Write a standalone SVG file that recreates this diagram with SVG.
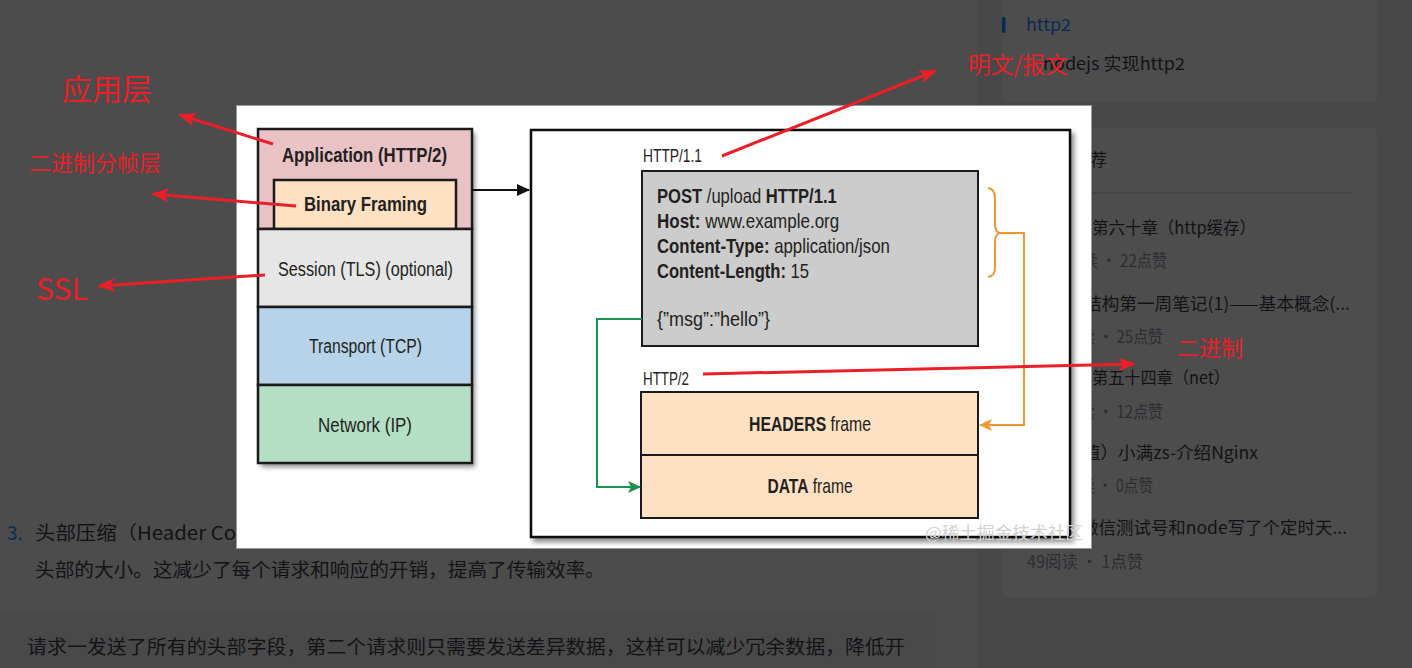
<svg xmlns="http://www.w3.org/2000/svg" width="1412" height="668" viewBox="0 0 1412 668">
<defs>
<style>
.pg{font-family:"Noto Sans CJK SC","Noto Sans",sans-serif;font-size:17px;fill:#121316}
.sub{fill:#2c2e33}
.d{font-family:"Liberation Sans Narrow","Liberation Sans",Arial,sans-serif;fill:#231f20}
.b{font-weight:bold}
.lay{stroke:#1a1a1a;stroke-width:2.5}
.red{fill:#ea1f27;font-family:"Noto Sans CJK SC","Noto Sans",sans-serif}
.ra{stroke:#ea1f27;stroke-width:3;fill:none;marker-end:url(#mr)}
</style>
<filter id="sh" x="-10%" y="-10%" width="125%" height="125%">
<feDropShadow dx="3" dy="4" stdDeviation="2.5" flood-color="#000" flood-opacity="0.45"/>
</filter>
<marker id="mr" markerUnits="userSpaceOnUse" markerWidth="18" markerHeight="14" refX="16" refY="7" orient="auto">
<path d="M0,0 L18,7 L0,14 L5,7 z" fill="#ea1f27"/>
</marker>
<marker id="mk" markerUnits="userSpaceOnUse" markerWidth="13" markerHeight="12" refX="12" refY="6" orient="auto">
<path d="M0,0 L13,6 L0,12 z" fill="#111"/>
</marker>
<marker id="mo" markerUnits="userSpaceOnUse" markerWidth="13" markerHeight="12" refX="12" refY="6" orient="auto">
<path d="M0,0 L13,6 L0,12 L3,6 z" fill="#f29633"/>
</marker>
<marker id="mg" markerUnits="userSpaceOnUse" markerWidth="13" markerHeight="12" refX="12" refY="6" orient="auto">
<path d="M0,0 L13,6 L0,12 L3,6 z" fill="#1a9350"/>
</marker>
</defs>

<!-- page background -->
<g id="page">
<rect x="0" y="0" width="1412" height="668" fill="#484848"/>
<rect x="0" y="0" width="977" height="668" fill="#4c4c4c"/>
<rect x="0" y="614" width="937" height="60" fill="#494949"/>
<rect x="1002" y="-6" width="375" height="108" rx="5" fill="#4d4d4d"/>
<rect x="1002" y="128" width="375" height="469" rx="5" fill="#4d4d4d"/>
<rect x="1002" y="17" width="3.5" height="16" rx="1.5" fill="#0a2a55"/>
<text class="pg" x="1026" y="31" style="fill:#0b2a55" textLength="45" lengthAdjust="spacingAndGlyphs">http2</text>
<text class="pg" x="1043" y="70" textLength="142" lengthAdjust="spacingAndGlyphs">nodejs 实现http2</text>
<text class="pg" x="1090" y="166">荐</text>
<line x1="1025" y1="193" x2="1352" y2="193" stroke="#3e3e3e" stroke-width="1"/>
<text class="pg" x="1092" y="234" textLength="164" lengthAdjust="spacingAndGlyphs">第六十章（http缓存）</text>
<text class="pg sub" x="1083" y="267" textLength="84" lengthAdjust="spacingAndGlyphs">读 · 22点赞</text>
<text class="pg" x="1084" y="310" textLength="266" lengthAdjust="spacingAndGlyphs">结构第一周笔记(1)——基本概念(...</text>
<text class="pg sub" x="1080" y="343" textLength="83" lengthAdjust="spacingAndGlyphs">读 · 25点赞</text>
<text class="pg" x="1092" y="384" textLength="138" lengthAdjust="spacingAndGlyphs">第五十四章（net）</text>
<text class="pg sub" x="1080" y="418" textLength="83" lengthAdjust="spacingAndGlyphs">读 · 12点赞</text>
<text class="pg" x="1083" y="459" textLength="175" lengthAdjust="spacingAndGlyphs">值）小满zs-介绍Nginx</text>
<text class="pg sub" x="1080" y="492" textLength="73" lengthAdjust="spacingAndGlyphs">读 · 0点赞</text>
<text class="pg" x="1081" y="534" textLength="266" lengthAdjust="spacingAndGlyphs">微信测试号和node写了个定时天...</text>
<text class="pg sub" x="1027" y="568" textLength="116" lengthAdjust="spacingAndGlyphs">49阅读 · 1点赞</text>

<text class="pg" x="7" y="540" style="font-size:19px;fill:#0b2a55">3.</text>
<text class="pg" x="35" y="540" style="font-size:19px" textLength="201" lengthAdjust="spacingAndGlyphs">头部压缩（Header Co</text>
<text class="pg" x="35" y="577" style="font-size:19px" textLength="570" lengthAdjust="spacingAndGlyphs">头部的大小。这减少了每个请求和响应的开销，提高了传输效率。</text>
<text class="pg" x="27" y="654" style="font-size:19px" textLength="878" lengthAdjust="spacingAndGlyphs">请求一发送了所有的头部字段，第二个请求则只需要发送差异数据，这样可以减少冗余数据，降低开</text>
</g>

<!-- image panel -->
<rect id="panel" x="236.5" y="105.5" width="855" height="443" fill="#ffffff" stroke="#9a9a9a" stroke-width="1"/>

<g id="stack">
<rect x="258" y="129" width="214" height="334" fill="#fff" filter="url(#sh)"/>
<g id="application">
<rect class="lay" x="258" y="129" width="214" height="100" fill="#e9c2c6"/>
<text class="d b" x="282" y="162" font-size="20" textLength="165" lengthAdjust="spacingAndGlyphs">Application (HTTP/2)</text>
</g>
<g id="binary-framing">
<rect class="lay" x="274" y="180" width="182" height="49" fill="#fde1c2"/>
<text class="d b" x="304" y="211" font-size="20" textLength="123" lengthAdjust="spacingAndGlyphs">Binary Framing</text>
</g>
<g id="session">
<rect class="lay" x="258" y="229" width="214" height="78" fill="#e6e6e6"/>
<text class="d" x="278" y="276" font-size="20" textLength="175" lengthAdjust="spacingAndGlyphs">Session (TLS) (optional)</text>
</g>
<g id="transport">
<rect class="lay" x="258" y="307" width="214" height="78" fill="#b6d3ea"/>
<text class="d" x="309" y="353" font-size="20" textLength="113" lengthAdjust="spacingAndGlyphs">Transport (TCP)</text>
</g>
<g id="network">
<rect class="lay" x="258" y="385" width="214" height="78" fill="#b4dfc5"/>
<text class="d" x="318" y="432" font-size="20" textLength="94" lengthAdjust="spacingAndGlyphs">Network (IP)</text>
</g>
</g>

<g id="detail">
<rect x="531" y="130" width="539" height="407" fill="#fff" stroke="#111" stroke-width="2.5" filter="url(#sh)"/>
</g>

<g id="http11">
<text class="d" x="643" y="162" font-size="18" textLength="59" lengthAdjust="spacingAndGlyphs" fill="#333">HTTP/1.1</text>
<rect x="642" y="171" width="336" height="175" fill="#cccccc" stroke="#1a1a1a" stroke-width="2"/>
<text class="d" transform="translate(657,203) scale(0.83,1)" x="0" y="0" font-size="20"><tspan class="b">POST</tspan> /upload <tspan class="b">HTTP/1.1</tspan></text>
<text class="d" transform="translate(657,228) scale(0.85,1)" x="0" y="0" font-size="20"><tspan class="b">Host:</tspan> www.example.org</text>
<text class="d" transform="translate(657,253) scale(0.84,1)" x="0" y="0" font-size="20"><tspan class="b">Content-Type:</tspan> application/json</text>
<text class="d" transform="translate(657,278) scale(0.83,1)" x="0" y="0" font-size="20"><tspan class="b">Content-Length:</tspan> 15</text>
<text class="d" x="657" y="326" font-size="20" textLength="113" lengthAdjust="spacingAndGlyphs">{”msg”:”hello”}</text>
</g>

<g id="http2">
<text class="d" x="643" y="385" font-size="18" textLength="46" lengthAdjust="spacingAndGlyphs" fill="#333">HTTP/2</text>
<g id="headers-frame">
<rect x="641" y="392" width="337" height="63" fill="#fde1c2" stroke="#1a1a1a" stroke-width="2"/>
<text class="d" transform="translate(810,431) scale(0.79,1)" x="0" y="0" font-size="20" text-anchor="middle"><tspan class="b">HEADERS</tspan> frame</text>
</g>
<g id="data-frame">
<rect x="641" y="455" width="337" height="63" fill="#fde1c2" stroke="#1a1a1a" stroke-width="2"/>
<text class="d" transform="translate(810,493) scale(0.78,1)" x="0" y="0" font-size="20" text-anchor="middle"><tspan class="b">DATA</tspan> frame</text>
</g>
</g>

<text id="watermark" x="925" y="539" font-family="Noto Sans CJK SC,sans-serif" font-size="17" fill="#d2d2d2" textLength="158" lengthAdjust="spacingAndGlyphs">@稀土掘金技术社区</text>

<g id="connectors">
<line x1="472" y1="190" x2="529" y2="190" stroke="#111" stroke-width="2" marker-end="url(#mk)"/>
<path d="M988,188 Q995,189 995,198 L995,224 Q995,232 1000,233 Q995,234 995,242 L995,268 Q995,276 988,277" fill="none" stroke="#f29633" stroke-width="2"/>
<path d="M1000,233 L1024,233 L1024,425 L980,425" fill="none" stroke="#f29633" stroke-width="2" marker-end="url(#mo)"/>
<path d="M642,319 L597,319 L597,487 L640,487" fill="none" stroke="#1a9350" stroke-width="2" marker-end="url(#mg)"/>
</g>

<g id="annotations">
<text class="red" x="62" y="100" font-size="30">应用层</text>
<text class="red" x="29" y="171" font-size="22">二进制分帧层</text>
<text class="red" x="36" y="300" font-size="30" font-family="Noto Sans,sans-serif">SSL</text>
<text class="red" x="968" y="73" font-size="23" textLength="100" lengthAdjust="spacingAndGlyphs">明文/报文</text>
<text class="red" x="1177" y="356" font-size="22">二进制</text>
<line class="ra" x1="273" y1="144" x2="180" y2="115"/>
<line class="ra" x1="296" y1="206" x2="153" y2="194"/>
<line class="ra" x1="265" y1="275" x2="99" y2="286"/>
<line class="ra" x1="722" y1="156" x2="935" y2="71"/>
<line class="ra" x1="703" y1="374" x2="1134" y2="364"/>
</g>
</svg>
